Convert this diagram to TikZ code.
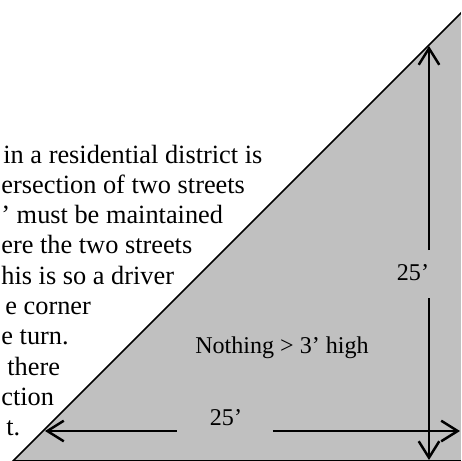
\documentclass[tikz,border=0pt]{standalone}
\usepackage{fontspec}
\setmainfont{Liberation Serif}
\usetikzlibrary{arrows.meta}

\begin{document}
\begin{tikzpicture}[x=0.486pt, y=-0.486pt,
  dimarrow/.style={line width=1.3pt, -{Straight Barb[length=8pt, width=10pt, line width=1.2pt]}},
  note/.style={anchor=base west, inner sep=0pt, font=\fontsize{12.8}{15}\selectfont},
  dimlabel/.style={inner sep=0pt, font=\fontsize{11.7}{14}\selectfont}]

% Page frame, clipped like the original
\useasboundingbox (0,0) rectangle (461,461);
\clip (0,0) rectangle (461,461);

% Draw the sight triangle
\filldraw [fill={rgb,255:red,192;green,192;blue,192}, line width=0.8pt] (13,461) -- (474,0) -- (474,461) -- cycle;

% Text of the paragraph, cut at the left edge
\foreach \px/\ptext [count=\k from 0] in {
    3/{in a residential district is},
    1/{ersection of two streets},
    1/{’ must be maintained},
    1/{ere the two streets},
    1/{his is so a driver},
    5/{e corner},
    1/{e turn.},
    7/{there},
    1/{ction},
    6/{t.}}
  \node [note] (line\k) at (\px, 163+30.3*\k) {\ptext};

\node [dimlabel] (rule) at (282,348) {Nothing > 3’ high};

% Vertical dimension
\node [dimlabel] (vlabel) at (413,273) {25’};
\coordinate (vTipT) at (429,46);
\coordinate (vGapT) at (429,250);
\coordinate (vGapB) at (429,298);
\coordinate (vTipB) at (429,460);
\draw [dimarrow] (vGapT) -- (vTipT);
\draw [dimarrow] (vGapB) -- (vTipB);

% Horizontal dimension
\node [dimlabel] (hlabel) at (226,418) {25’};
\coordinate (hTipL) at (45,431);
\coordinate (hGapL) at (177,431);
\coordinate (hGapR) at (273,431);
\coordinate (hTipR) at (460,431);
\draw [dimarrow] (hGapL) -- (hTipL);
\draw [dimarrow] (hGapR) -- (hTipR);

\end{tikzpicture}
\end{document}
